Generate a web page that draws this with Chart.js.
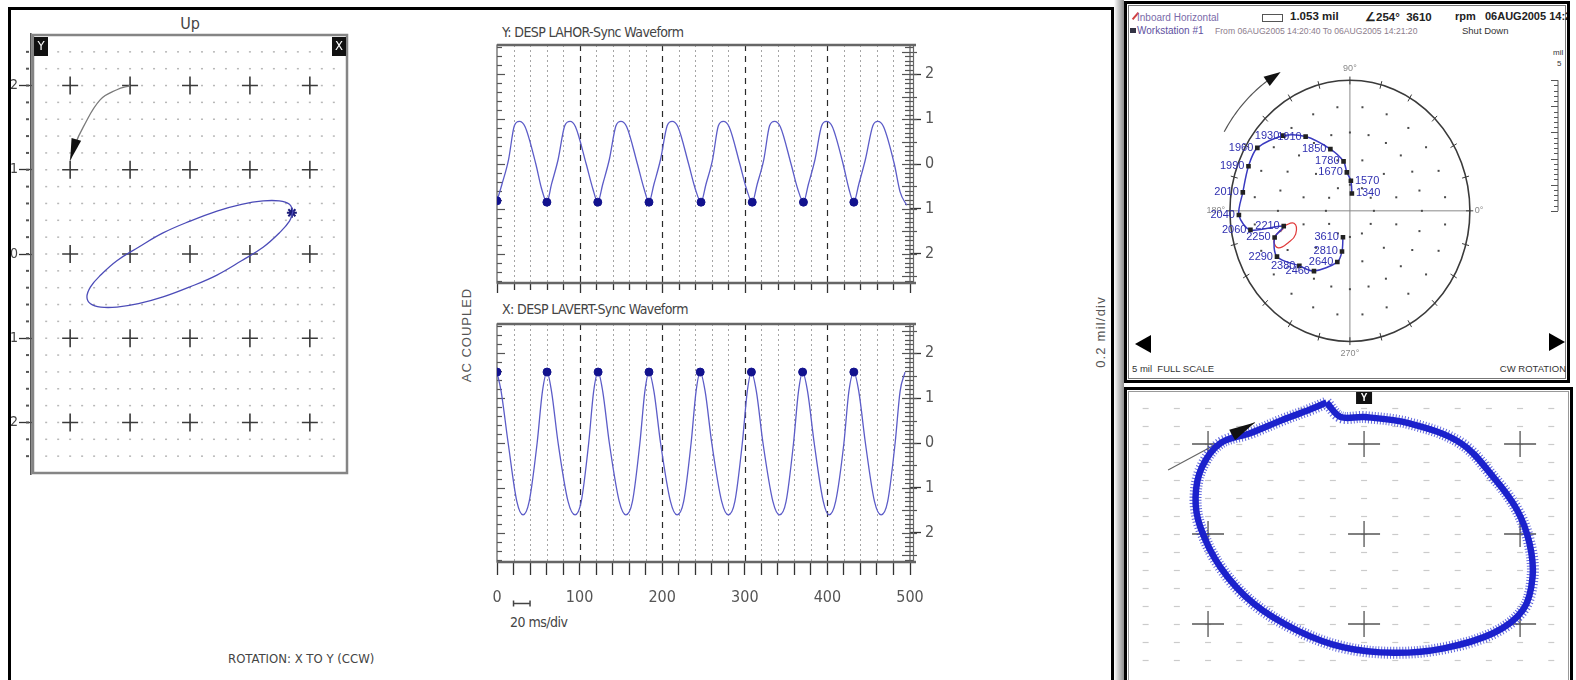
<!DOCTYPE html>
<html><head><meta charset="utf-8">
<script src="https://cdn.jsdelivr.net/npm/chart.js@4.4.1/dist/chart.umd.min.js"></script>
<style>
html,body{margin:0;padding:0;background:#fff;}
body{width:1576px;height:680px;overflow:hidden;position:relative;font-family:"Liberation Sans Narrow","DejaVu Sans Condensed","Liberation Sans",sans-serif;color:#444;}
.a{position:absolute;white-space:nowrap;}
canvas{position:absolute;}
.s{font-family:"Liberation Sans",Arial,sans-serif;}
.n{font-family:"Liberation Sans Narrow","DejaVu Sans Condensed",sans-serif;}
</style></head><body>

<!-- left big panel frame -->
<div class="a" style="left:8px;top:7px;width:1100px;height:700px;border:3px solid #000;"></div>
<div class="a" style="left:1114px;top:0;width:10px;height:680px;background:linear-gradient(to right,#fff,#cfcfcf 40%,#8c8c8c);"></div>

<!-- top-right panel -->
<div class="a" id="p2" style="left:1124px;top:1px;width:440px;height:376px;border:3px solid #000;overflow:hidden;background:#fff;">
  <div class="a" style="left:1px;top:1px;right:1px;bottom:1px;border:1px solid #777;"></div>
  <div class="a" style="left:4px;top:11px;width:9px;height:2px;background:#d04040;transform:rotate(-50deg);"></div>
  <div class="a s" style="left:10px;top:8px;font-size:10px;color:#7a6aa8;">Inboard Horizontal</div>
  <div class="a" style="left:135px;top:10px;width:19px;height:6px;border:1px solid #555;"></div>
  <div class="a s" style="left:163px;top:6px;font-size:11.5px;font-weight:bold;color:#222;">1.053 mil</div>
  <div class="a s" style="left:238px;top:6px;font-size:11.5px;font-weight:bold;color:#222;">∠254°&nbsp; 3610</div>
  <div class="a s" style="left:328px;top:6px;font-size:11px;font-weight:bold;color:#222;">rpm&nbsp;&nbsp; 06AUG2005 14:20:</div>
  <div class="a" style="left:3px;top:24px;width:6px;height:5px;background:#334;"></div>
  <div class="a s" style="left:10px;top:21px;font-size:10px;color:#6050a0;">Workstation #1</div>
  <div class="a s" style="left:88px;top:22px;font-size:8.6px;color:#8c7c8c;">From 06AUG2005 14:20:40 To 06AUG2005 14:21:20</div>
  <div class="a s" style="left:335px;top:21px;font-size:9.5px;color:#333;">Shut Down</div>
  <div class="a s" style="left:426px;top:44px;font-size:8px;color:#333;">mil</div>
  <div class="a s" style="left:430px;top:55px;font-size:8px;color:#333;">5</div>
  <div class="a s" style="left:5px;top:359px;font-size:9.5px;color:#333;">5 mil&nbsp; FULL SCALE</div>
  <div class="a s" style="right:1px;top:359px;font-size:9.5px;color:#333;">CW ROTATION</div>
  <div class="a" style="left:8px;top:331px;width:0;height:0;border-top:9px solid transparent;border-bottom:9px solid transparent;border-right:16px solid #000;"></div>
  <div class="a" style="left:422px;top:329px;width:0;height:0;border-top:9px solid transparent;border-bottom:9px solid transparent;border-left:16px solid #000;"></div>
</div>

<!-- bottom-right panel -->
<div class="a" style="left:1124px;top:387px;width:443px;height:300px;border:3px solid #000;background:#fff;">
  <div class="a" style="left:1px;top:1px;right:1px;bottom:1px;border:1px solid #999;"></div>
</div>

<!-- texts of left panel -->
<div class="a n" style="left:190px;top:14px;transform:translateX(-50%);font-size:16px;color:#444;">Up</div>
<div class="a n" style="left:228px;top:651px;font-size:13px;color:#444;">ROTATION: X TO Y (CCW)</div>
<div class="a n" style="left:502px;top:24px;font-size:14px;letter-spacing:-0.6px;color:#444;">Y: DESP LAHOR-Sync Waveform</div>
<div class="a n" style="left:502px;top:301px;font-size:14px;letter-spacing:-0.6px;color:#444;">X: DESP LAVERT-Sync Waveform</div>
<div class="a n" style="left:510px;top:614px;font-size:14px;letter-spacing:-0.5px;color:#444;">20 ms/div</div>
<div class="a s" style="left:466px;top:335px;transform:translate(-50%,-50%) rotate(-90deg);font-size:13px;letter-spacing:1px;color:#555;">AC COUPLED</div>
<div class="a s" style="left:1100px;top:332px;transform:translate(-50%,-50%) rotate(-90deg);font-size:13px;letter-spacing:1.2px;color:#555;">0.2 mil/div</div>

<canvas id="orbit" width="344" height="452" style="left:11px;top:28px;"></canvas>
<canvas id="waveY" width="460" height="255" style="left:490px;top:40px;"></canvas>
<canvas id="waveX" width="460" height="293" style="left:490px;top:319px;"></canvas>
<canvas id="polar" width="440" height="332" style="left:1128px;top:40px;"></canvas>
<canvas id="orbit2" width="442" height="289" style="left:1128px;top:391px;"></canvas>

<script>
// ===================== DATA =====================
// Left orbit (mil), Y vs X
const orbitTicks = [-2, -1, 0, 1, 2];
const orbitX = [1.72, 1.66, 1.49, 1.22, 0.86, 0.45, 0.00, -0.45, -0.86, -1.22, -1.49, -1.66, -1.72, -1.66, -1.49, -1.22, -0.86, -0.45, 0.00, 0.45, 0.86, 1.22, 1.49, 1.66, 1.72];
const orbitY = [0.51, 0.59, 0.63, 0.63, 0.59, 0.51, 0.39, 0.25, 0.08, -0.08, -0.25, -0.39, -0.51, -0.59, -0.63, -0.63, -0.59, -0.51, -0.39, -0.25, -0.08, 0.08, 0.25, 0.39, 0.51];
const orbitMarkX = [1.70];
const orbitMarkY = [0.49];
const orbitArrowX = [-1.00, -1.22, -1.50, -1.78, -1.93, -2.00];
const orbitArrowY = [2.00, 1.95, 1.83, 1.51, 1.28, 1.11];

// Sync waveforms (time ms, amplitude mil)
const waveXTicks = [0,20,40,60,80,100,120,140,160,180,200,220,240,260,280,300,320,340,360,380,400,420,440,460,480,500];
const waveYTicks = [-2, -1, 0, 1, 2];
const horT = [0,6,14,21,27,34,47,54, 60.4,66,74,82,88.5,95,108,116, 122,128,136,144,150,157,170,178, 184,190,198,206,212,219,232,240, 247,253,261,268,274,281,294,302, 309,315,323,330,336,343,356,364, 371,377,385,393,399,406,419,426, 432,438,446,455,461,468,481,488, 496];
const horV = [-0.82,-0.45,0.10,0.85,0.95,0.83,0.00,-0.55, -0.85,-0.45,0.10,0.85,0.95,0.83,0.00,-0.55, -0.85,-0.45,0.10,0.85,0.95,0.83,0.00,-0.55, -0.85,-0.45,0.10,0.85,0.95,0.83,0.00,-0.55, -0.85,-0.45,0.10,0.85,0.95,0.83,0.00,-0.55, -0.85,-0.45,0.10,0.85,0.95,0.83,0.00,-0.55, -0.85,-0.45,0.10,0.85,0.95,0.83,0.00,-0.55, -0.85,-0.45,0.10,0.85,0.95,0.83,0.00,-0.62, -0.92];
const horDotT = [0, 60.4, 122, 184, 247, 309, 371, 432];
const horDotV = [-0.82, -0.85, -0.85, -0.85, -0.85, -0.85, -0.85, -0.85];
const verT = [0,5,13.5,24,31.5,39,48.6,55, 60.6,66,74,86,94.5,102,111,117, 122.4,128,136,148,156,164,173,179, 184,190,198,210,218,226,235,241, 246,252,260,272,280,288,297,303, 308,314,322,334,342,350,359,365, 370,376,384,395,402,410,420,426, 432,438,446,457,465,473,482,488, 494];
const verV = [1.58,1.15,0.00,-1.30,-1.60,-1.30,0.00,1.15, 1.58,1.15,0.00,-1.30,-1.60,-1.30,0.00,1.15, 1.58,1.15,0.00,-1.30,-1.60,-1.30,0.00,1.15, 1.58,1.15,0.00,-1.30,-1.60,-1.30,0.00,1.15, 1.58,1.15,0.00,-1.30,-1.60,-1.30,0.00,1.15, 1.58,1.15,0.00,-1.30,-1.60,-1.30,0.00,1.15, 1.58,1.15,0.00,-1.30,-1.60,-1.30,0.00,1.15, 1.58,1.15,0.00,-1.30,-1.60,-1.30,0.00,1.15, 1.58];
const verDotT = [0, 60.6, 122.4, 184, 246, 308, 370, 432];
const verDotV = [1.58, 1.58, 1.58, 1.58, 1.58, 1.58, 1.58, 1.58];

// Polar (Bode) plot: rpm labels, amplitude (mil), phase (deg)
const polarRpm   = [1340, 1570, 1670, 1780, 1850, 1910, 1930, 1960, 1990, 2010, 2040, 2060, 2210, 2250, 2290, 2380, 2460, 2640, 2810, 3610];
const polarAmp   = [0.67, 1.15, 1.48, 1.91, 2.50, 3.39, 4.00, 4.55, 4.56, 4.52, 4.63, 4.21, 2.82, 3.30, 3.51, 2.98, 2.75, 2.03, 1.59, 1.053];
const polarPhase = [83, 88, 95, 98, 109, 123, 134, 148, 158, 171, 182, 190, 192, 198, 210, 225, 237, 255, 258, 254];
const polarAngleLabels = ['0°', '90°', '180°', '270°'];
const loopX = [-2.78, -2.33, -2.26, -2.57, -2.98, -3.17, -3.09, -2.78];
const loopY = [-0.58, -0.48, -0.89, -1.22, -1.42, -1.17, -0.93, -0.70];

// Bottom-right orbit
const ringTicks = [-1, 0, 1];
const ringX = [-0.24, -0.15, 0.00, 0.29, 0.62, 0.83, 0.98, 1.06, 1.08, 1.02, 0.83, 0.51, 0.19, -0.13, -0.43, -0.71, -0.92, -1.05, -1.08, -1.04, -0.92, -0.73, -0.52, -0.35, -0.24];
const ringY = [1.46, 1.30, 1.30, 1.23, 1.01, 0.63, 0.27, -0.10, -0.48, -0.84, -1.10, -1.27, -1.32, -1.26, -1.07, -0.77, -0.37, 0.08, 0.41, 0.74, 1.01, 1.12, 1.27, 1.38, 1.46];
const ringArrowX = [-1.256, -1.00, -0.70];
const ringArrowY = [0.711, 0.95, 1.24];

// ===================== SETUP =====================
const FONT = '"Liberation Sans Narrow","DejaVu Sans Condensed","Liberation Sans",sans-serif';
const SANS = '"Liberation Sans",Arial,sans-serif';
Chart.defaults.font.family = FONT;
Chart.defaults.color = '#555';
Chart.defaults.animation = false;
Chart.defaults.responsive = false;
Chart.defaults.devicePixelRatio = 1;
Chart.defaults.plugins.legend.display = false;
Chart.defaults.plugins.tooltip.enabled = false;

const pts = (xs, ys) => xs.map((v, i) => ({ x: v, y: ys[i] }));
const absLabel = v => String(Math.abs(v));

// arrowhead at the end of an arrow polyline, using the chart scales
function arrowHead(chart, xs, ys, len, halfW, color) {
  const { ctx, scales: { x, y } } = chart;
  const n = xs.length;
  const tx = x.getPixelForValue(xs[n - 1]), ty = y.getPixelForValue(ys[n - 1]);
  const fx = x.getPixelForValue(xs[n - 2]), fy = y.getPixelForValue(ys[n - 2]);
  const dx = tx - fx, dy = ty - fy, L = Math.hypot(dx, dy);
  const ux = dx / L, uy = dy / L;
  const bx = tx - ux * len, by = ty - uy * len;
  ctx.save();
  ctx.fillStyle = color;
  ctx.beginPath();
  ctx.moveTo(tx, ty);
  ctx.lineTo(bx - uy * halfW, by + ux * halfW);
  ctx.lineTo(bx + uy * halfW, by - ux * halfW);
  ctx.closePath(); ctx.fill();
  ctx.restore();
}

// ---------- Left orbit ----------
const orbitDecor = {
  id: 'orbitDecor',
  beforeDatasetsDraw(chart) {
    const { ctx, chartArea: a, scales: { x, y } } = chart;
    ctx.save();
    ctx.fillStyle = '#b8b8b8';
    for (let i = -12; i <= 12; i++) {
      const px = x.getPixelForValue(i * 0.2);
      for (let j = -12; j <= 12; j++) {
        const py = y.getPixelForValue(j * 0.2);
        ctx.fillRect(px - 1, py - 0.75, 2, 1.5);
      }
    }
    ctx.strokeStyle = '#3a3a3a'; ctx.lineWidth = 1.6;
    orbitTicks.forEach(vx => orbitTicks.forEach(vy => {
      const px = x.getPixelForValue(vx), py = y.getPixelForValue(vy);
      ctx.beginPath();
      ctx.moveTo(px - 8, py); ctx.lineTo(px + 8, py);
      ctx.moveTo(px, py - 9); ctx.lineTo(px, py + 9);
      ctx.stroke();
    }));
    ctx.strokeStyle = '#555'; ctx.lineWidth = 2;
    for (let j = -12; j <= 12; j++) {
      const py = y.getPixelForValue(j * 0.2);
      ctx.beginPath(); ctx.moveTo(a.left - 7, py); ctx.lineTo(a.left - 4, py); ctx.stroke();
    }
    ctx.strokeStyle = '#858585'; ctx.lineWidth = 2.5;
    ctx.strokeRect(a.left, a.top, a.right - a.left, a.bottom - a.top);
    ctx.fillStyle = '#555';
    ctx.fillRect(a.left - 3, a.top - 2, 1.6, a.bottom - a.top + 4);
    ctx.fillStyle = '#111';
    ctx.fillRect(a.left + 1, a.top + 2, 14, 19);
    ctx.fillRect(a.right - 15, a.top + 2, 14, 19);
    ctx.fillStyle = '#fff'; ctx.font = '13px ' + FONT; ctx.textAlign = 'center'; ctx.textBaseline = 'middle';
    ctx.fillText('Y', a.left + 8, a.top + 12);
    ctx.fillText('X', a.right - 8, a.top + 12);
    ctx.restore();
  },
  afterDatasetsDraw(chart) {
    arrowHead(chart, orbitArrowX, orbitArrowY, 22, 5, '#111');
  }
};

new Chart(document.getElementById('orbit'), {
  type: 'scatter',
  data: { datasets: [
    { data: pts(orbitX, orbitY), showLine: true, tension: 0.4, borderColor: '#4c4cb8', borderWidth: 1.3, pointRadius: 0 },
    { data: pts(orbitMarkX, orbitMarkY), pointStyle: 'star', pointRadius: 5, borderWidth: 2, borderColor: '#1b1b7a', backgroundColor: '#1b1b7a' },
    { data: pts(orbitArrowX, orbitArrowY), showLine: true, tension: 0.4, borderColor: '#7a7a7a', borderWidth: 1.3, pointRadius: 0 }
  ] },
  options: {
    layout: { padding: { top: 7, right: 8, bottom: 7, left: 0 } },
    scales: {
      x: { type: 'linear', display: false, min: -2.62, max: 2.62 },
      y: { type: 'linear', min: -2.6, max: 2.6, afterFit: s => { s.width = 22; s.paddingTop = 0; s.paddingBottom = 0; },
        grid: { drawOnChartArea: false, drawTicks: true, tickLength: 14, tickColor: '#333', tickWidth: 1.3 },
        border: { display: false },
        ticks: { stepSize: 1, includeBounds: false, padding: 1, color: '#444', font: { size: 14 }, callback: absLabel } }
    }
  },
  plugins: [orbitDecor]
});

// ---------- Waveforms ----------
function makeWaveDecor(id, bottomTicks, scaleBar) {
  return {
    id,
    beforeDatasetsDraw(chart) {
      const { ctx, chartArea: a, scales: { x, y } } = chart;
      ctx.save();
      waveXTicks.forEach(v => {
        if (v <= x.min || v >= x.max) return;
        const px = Math.round(x.getPixelForValue(v)) + 0.5;
        const major = v % 100 === 0;
        ctx.setLineDash(major ? [6, 5] : [2, 3]);
        ctx.strokeStyle = major ? '#2a2a2a' : '#a5a5a5';
        ctx.lineWidth = major ? 1.2 : 1;
        ctx.beginPath(); ctx.moveTo(px, a.top); ctx.lineTo(px, a.bottom); ctx.stroke();
      });
      ctx.setLineDash([]);
      ctx.strokeStyle = '#555'; ctx.lineWidth = 1.2;
      for (let j = -13; j <= 13; j++) {
        const py = Math.round(y.getPixelForValue(j * 0.2)) + 0.5;
        ctx.beginPath(); ctx.moveTo(a.left, py); ctx.lineTo(a.left + (j % 5 === 0 ? 8 : 5), py); ctx.stroke();
      }
      for (let j = -26; j <= 26; j++) {
        const py = Math.round(y.getPixelForValue(j * 0.1)) + 0.5;
        const L = j % 5 === 0 ? 8 : 5;
        ctx.beginPath(); ctx.moveTo(a.right - L, py); ctx.lineTo(a.right + L - 1, py); ctx.stroke();
      }
      if (bottomTicks) {
        ctx.strokeStyle = '#333'; ctx.lineWidth = 1.3;
        waveXTicks.forEach(v => {
          const px = Math.round(x.getPixelForValue(v)) + 0.5;
          ctx.beginPath(); ctx.moveTo(px, a.bottom); ctx.lineTo(px, a.bottom + (v % 100 === 0 ? 10 : 7)); ctx.stroke();
        });
      }
      ctx.strokeStyle = '#5a5a5a'; ctx.lineWidth = 1.2;
      ctx.strokeRect(a.left, a.top, a.right - a.left, a.bottom - a.top);
      ctx.strokeStyle = '#666'; ctx.lineWidth = 2.6;
      ctx.beginPath(); ctx.moveTo(a.left, a.top); ctx.lineTo(a.right + 6, a.top);
      ctx.moveTo(a.left, a.bottom); ctx.lineTo(a.right + 6, a.bottom); ctx.stroke();
      ctx.lineWidth = 1.2;
      ctx.beginPath(); ctx.moveTo(a.right + 3.5, a.top); ctx.lineTo(a.right + 3.5, a.bottom); ctx.stroke();
      if (scaleBar) {
        const x0 = x.getPixelForValue(20), x1 = x.getPixelForValue(40), yy = a.bottom + 41.5;
        ctx.strokeStyle = '#444'; ctx.lineWidth = 1.5;
        ctx.beginPath(); ctx.moveTo(x0, yy); ctx.lineTo(x1, yy);
        ctx.moveTo(x0, yy - 3); ctx.lineTo(x0, yy + 3); ctx.moveTo(x1, yy - 3); ctx.lineTo(x1, yy + 3); ctx.stroke();
      }
      ctx.restore();
    }
  };
}

function waveChart(el, tArr, vArr, dotT, dotV, withAxis) {
  return new Chart(document.getElementById(el), {
    type: 'scatter',
    data: { datasets: [
      { data: pts(dotT, dotV), pointRadius: 4, pointStyle: 'circle', backgroundColor: '#12128e', borderColor: '#12128e' },
      { data: pts(tArr, vArr), showLine: true, cubicInterpolationMode: 'monotone', borderColor: '#5c5cc8', borderWidth: 1.3, pointRadius: 0 }
    ] },
    options: {
      layout: { padding: { top: 5, right: 0, bottom: withAxis ? 0 : 12, left: 7 } },
      scales: {
        x: withAxis ? {
          type: 'linear', min: 0, max: 500,
          afterFit: s => { s.height = 50; s.paddingLeft = 0; s.paddingRight = 0; },
          grid: { drawOnChartArea: false, drawTicks: true, tickLength: 13, tickColor: '#333', tickWidth: 1.3 },
          border: { display: false },
          ticks: { stepSize: 20, autoSkip: false, maxRotation: 0, padding: 13, color: '#555', font: { size: 16 },
                   callback: v => (v % 100 === 0 ? String(v) : '') }
        } : { type: 'linear', min: 0, max: 500, display: false },
        y: { type: 'linear', position: 'right', min: -2.65, max: 2.65,
          afterFit: s => { s.width = 40; s.paddingTop = 0; s.paddingBottom = 0; },
          grid: { drawOnChartArea: false, drawTicks: true, tickLength: 11, tickColor: '#333', tickWidth: 1.3 },
          border: { display: false },
          ticks: { stepSize: 1, includeBounds: false, padding: 4, color: '#555', font: { size: 16 }, callback: absLabel } }
      }
    },
    plugins: [makeWaveDecor(el + 'Decor', !withAxis, withAxis)]
  });
}
waveChart('waveY', horT, horV, horDotT, horDotV, false);
waveChart('waveX', verT, verV, verDotT, verDotV, true);

// ---------- Polar plot ----------
const rad = d => d * Math.PI / 180;
const polarPts = polarAmp.map((r, i) => ({ x: r * Math.cos(rad(polarPhase[i])), y: r * Math.sin(rad(polarPhase[i])) }));

const polarDecor = {
  id: 'polarDecor',
  beforeDatasetsDraw(chart) {
    const { ctx, chartArea: a, scales: { x, y } } = chart;
    const P = (r, d) => [x.getPixelForValue(r * Math.cos(rad(d))), y.getPixelForValue(r * Math.sin(rad(d)))];
    const line = (p, q) => { ctx.beginPath(); ctx.moveTo(p[0], p[1]); ctx.lineTo(q[0], q[1]); ctx.stroke(); };
    const cx = x.getPixelForValue(0), cy = y.getPixelForValue(0);
    ctx.save();
    ctx.strokeStyle = '#8a8a8a'; ctx.lineWidth = 1;
    line(P(5, 180), P(5, 0)); line(P(5, 270), P(5, 90));
    ctx.fillStyle = '#4a4a4a';
    for (let r = 1; r <= 4; r++) {
      const step = r >= 3 ? 15 : 30;
      for (let d = 0; d < 360; d += step) {
        const p = P(r, d + (r % 2 ? 0 : step / 2));
        ctx.fillRect(p[0] - 1, p[1] - 1, 2, 2);
      }
    }
    ctx.strokeStyle = '#3a3a3a'; ctx.lineWidth = 1.6;
    ctx.beginPath();
    ctx.ellipse(cx, cy, x.getPixelForValue(5) - cx, cy - y.getPixelForValue(5), 0, 0, 2 * Math.PI);
    ctx.stroke();
    ctx.lineWidth = 1;
    for (let d = 0; d < 360; d += 15) line(P(4.84, d), P(5.14, d));
    ctx.fillStyle = '#888'; ctx.font = '9px ' + SANS; ctx.textBaseline = 'middle';
    polarAngleLabels.forEach(lbl => {
      const d = parseInt(lbl, 10);
      const p = P(d % 180 === 0 ? 5.2 : 5.45, d);
      ctx.textAlign = d === 0 ? 'left' : d === 180 ? 'right' : 'center';
      ctx.fillText(lbl, p[0], p[1]);
    });
    // rotation arrow
    ctx.strokeStyle = '#555'; ctx.lineWidth = 1.2;
    ctx.beginPath();
    for (let d = 150; d >= 123; d -= 1) { const p = P(6.05, d); d === 150 ? ctx.moveTo(p[0], p[1]) : ctx.lineTo(p[0], p[1]); }
    ctx.stroke();
    const tip = P(6.05, 118.5), base = P(6.05, 125);
    const dx = tip[0] - base[0], dy = tip[1] - base[1], L = Math.hypot(dx, dy);
    const nx = -dy / L * 5.5, ny = dx / L * 5.5;
    ctx.fillStyle = '#111';
    ctx.beginPath(); ctx.moveTo(tip[0], tip[1]); ctx.lineTo(base[0] + nx, base[1] + ny); ctx.lineTo(base[0] - nx, base[1] - ny); ctx.closePath(); ctx.fill();
    // mil ruler on the right
    const rx = a.right - 4.5;
    ctx.strokeStyle = '#555'; ctx.lineWidth = 1;
    line([rx, y.getPixelForValue(0)], [rx, y.getPixelForValue(5)]);
    for (let k = 0; k <= 25; k++) {
      const py = Math.round(y.getPixelForValue(k * 0.2)) + 0.5;
      line([rx - (k % 5 === 0 ? 7 : 4), py], [rx, py]);
    }
    ctx.restore();
  },
  afterDatasetsDraw(chart) {
    const { ctx, scales: { x, y } } = chart;
    ctx.save();
    ctx.font = '11px ' + SANS; ctx.fillStyle = '#2f2fb0'; ctx.textBaseline = 'middle';
    polarRpm.forEach((rpm, i) => {
      const px = x.getPixelForValue(polarPts[i].x), py = y.getPixelForValue(polarPts[i].y);
      if (polarPhase[i] <= 90) { ctx.textAlign = 'left'; ctx.fillText(String(rpm), px + 4, py); }
      else { ctx.textAlign = 'right'; ctx.fillText(String(rpm), px - 4, py); }
    });
    ctx.restore();
  }
};

new Chart(document.getElementById('polar'), {
  type: 'scatter',
  data: { datasets: [
    { data: polarPts, showLine: true, tension: 0.3, borderColor: '#3a3ac0', borderWidth: 1.5, pointRadius: 2.2, pointStyle: 'rect', backgroundColor: '#222', pointBorderColor: '#222' },
    { data: pts(loopX, loopY), showLine: true, tension: 0.45, borderColor: '#e03a3a', borderWidth: 1.2, pointRadius: 0 }
  ] },
  options: {
    layout: { padding: 0 },
    scales: {
      x: { type: 'linear', display: false, min: -9.02, max: 8.86 },
      y: { type: 'linear', display: false, min: -5.96, max: 6.33 }
    }
  },
  plugins: [polarDecor]
});

// ---------- Bottom-right orbit ----------
const ringDecor = {
  id: 'ringDecor',
  beforeDatasetsDraw(chart) {
    const { ctx, chartArea: a, scales: { x, y } } = chart;
    ctx.save();
    ctx.strokeStyle = '#cbcbcb'; ctx.lineWidth = 1.2;
    for (let i = -7; i <= 6; i++) {
      const px = x.getPixelForValue(i * 0.2);
      for (let j = -7; j <= 7; j++) {
        const py = Math.round(y.getPixelForValue(j * 0.2)) + 0.5;
        ctx.beginPath(); ctx.moveTo(px - 3, py); ctx.lineTo(px + 3, py); ctx.stroke();
      }
    }
    ctx.strokeStyle = '#555'; ctx.lineWidth = 1.3;
    ringTicks.forEach(vx => ringTicks.forEach(vy => {
      const px = x.getPixelForValue(vx), py = y.getPixelForValue(vy);
      ctx.beginPath();
      ctx.moveTo(px - 16, py); ctx.lineTo(px + 16, py);
      ctx.moveTo(px, py - 13); ctx.lineTo(px, py + 13);
      ctx.stroke();
    }));
    const cx = x.getPixelForValue(0);
    ctx.fillStyle = '#111'; ctx.fillRect(cx - 8, a.top + 1, 16, 12);
    ctx.fillStyle = '#fff'; ctx.font = 'bold 10px ' + SANS; ctx.textAlign = 'center'; ctx.textBaseline = 'middle';
    ctx.fillText('Y', cx, a.top + 7.5);
    ctx.restore();
  },
  afterDatasetsDraw(chart) {
    arrowHead(chart, ringArrowX, ringArrowY, 26, 6, '#111');
  }
};

new Chart(document.getElementById('orbit2'), {
  type: 'scatter',
  data: { datasets: [
    { data: pts(ringX, ringY), showLine: true, tension: 0.35, borderColor: '#1b21cc', borderWidth: 6.5, pointRadius: 0 },
    { data: pts(ringX, ringY), showLine: true, tension: 0.35, borderColor: 'rgba(30,40,205,0.7)', borderWidth: 12, borderDash: [1, 2], pointRadius: 0 },
    { data: pts(ringArrowX, ringArrowY), showLine: true, tension: 0.3, borderColor: '#666', borderWidth: 1.2, pointRadius: 0 }
  ] },
  options: {
    layout: { padding: 0 },
    scales: {
      x: { type: 'linear', display: false, min: -1.513, max: 1.32 },
      y: { type: 'linear', display: false, min: -1.622, max: 1.589 }
    }
  },
  plugins: [ringDecor]
});
</script>
</body></html>
